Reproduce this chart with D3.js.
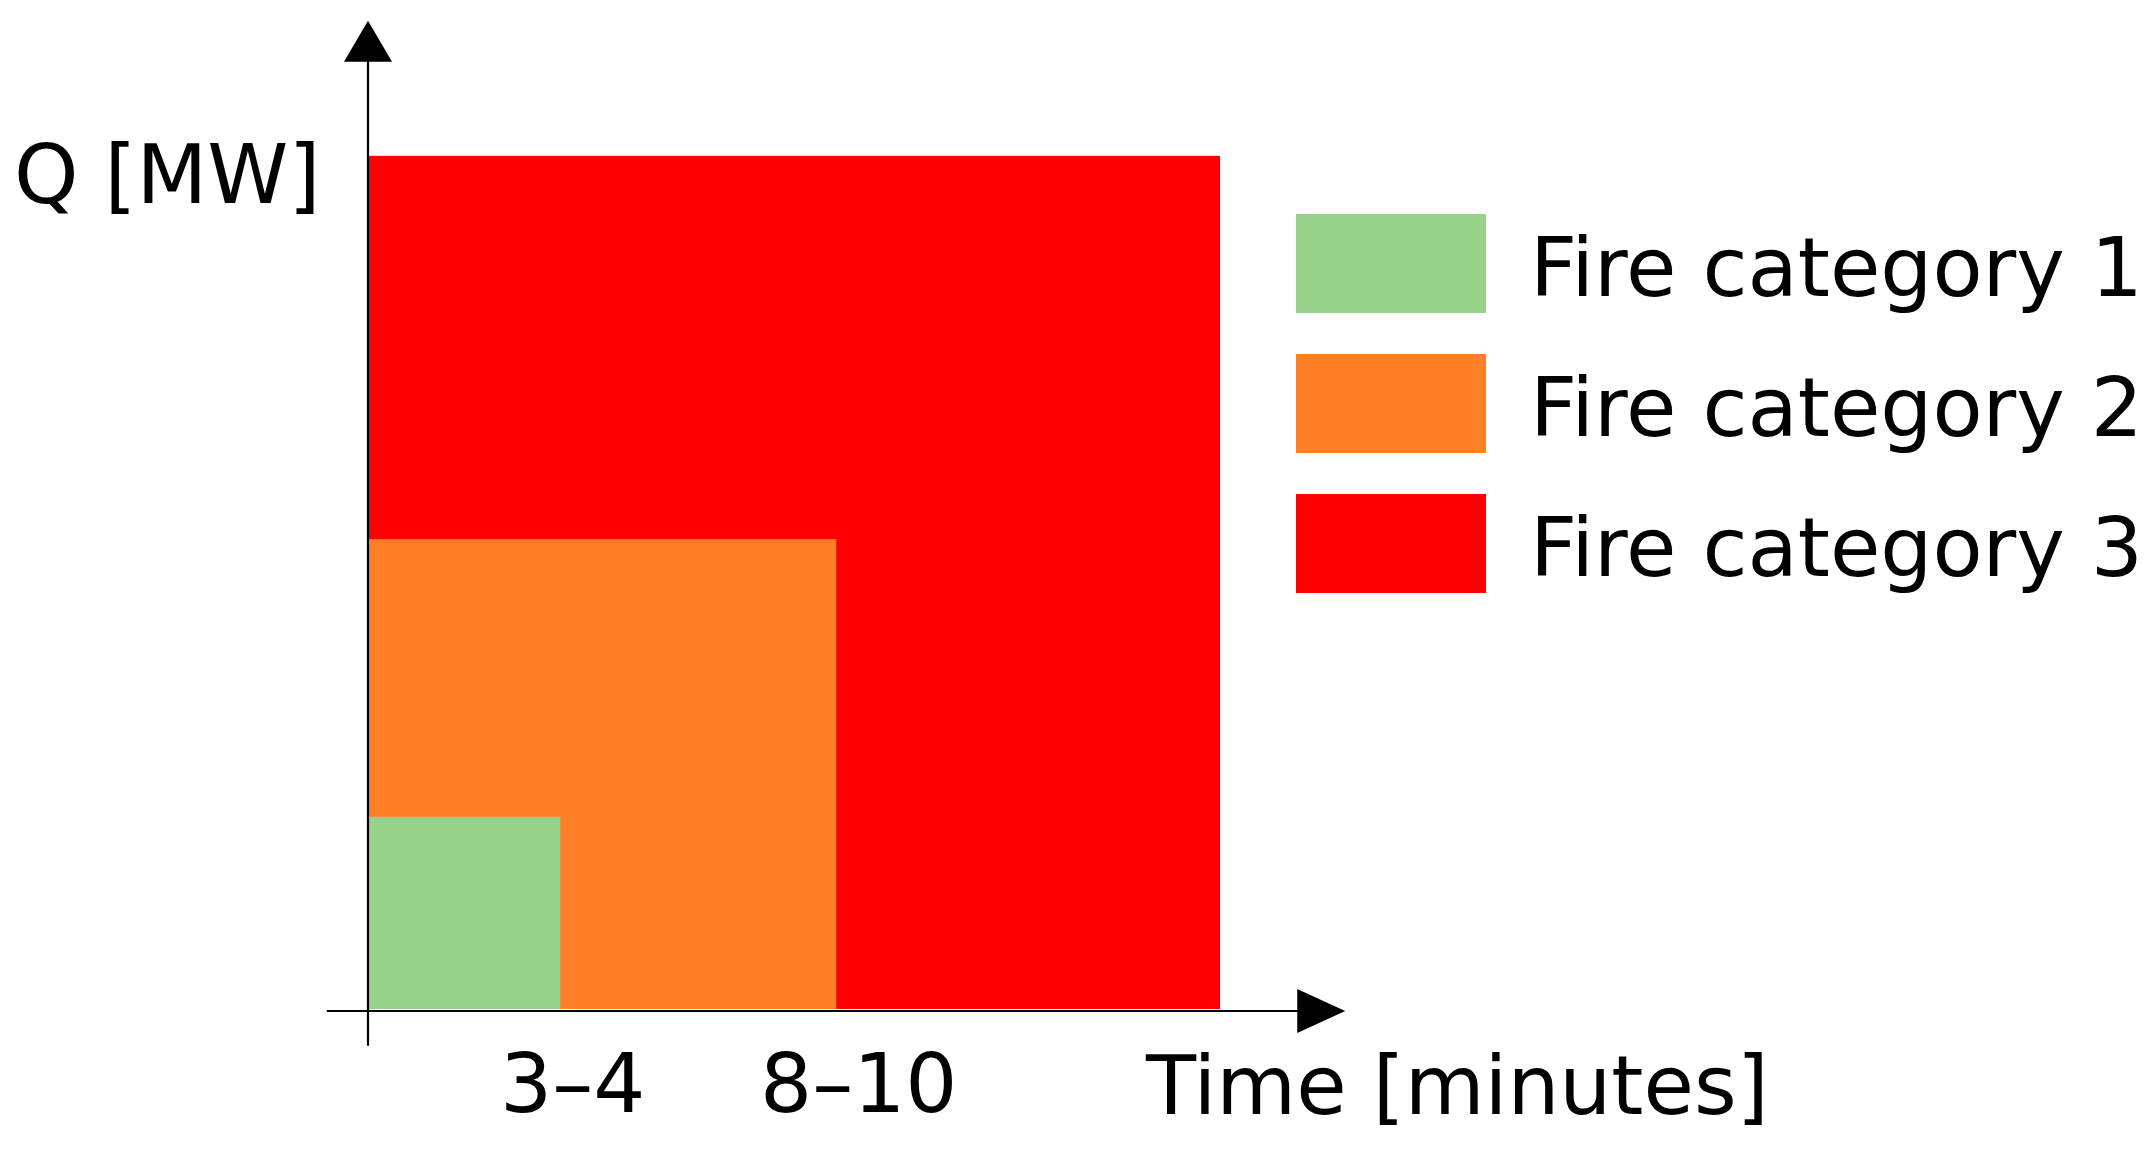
<!DOCTYPE html>
<html>
<head>
<meta charset="utf-8">
<script src="https://cdn.jsdelivr.net/npm/d3@7"></script>
<style>
  html, body { margin: 0; padding: 0; background: #fff; }
  svg text { font-family: "DejaVu Sans", Verdana, sans-serif; fill: #000; }
</style>
</head>
<body>
<div id="chart"></div>
<script>
// data
var categories = ['Fire category 1', 'Fire category 2', 'Fire category 3'],
    timeEnd = [3.5, 8.53, 15.52],    // minutes (approx. from picture)
    qValue = [3.5, 8.56, 15.54],     // Q, relative units
    colors = ['#97d28a', '#ff7f27', '#ff0000']

var tickPos = [3.72, 8.93],
    tickLabels = ['3\u20134', '8\u201310']

var w = 2152,
    h = 1158,
    ox = 368,      // origin x
    oy = 1009,     // origin y
    unit = 54.9

var svg = d3.select('#chart')
    .append('svg')
    .attr('width', w)
    .attr('height', h)

var xscale = d3.scaleLinear()
    .domain([0, 10])
    .range([ox, ox + 10 * unit])

var yscale = d3.scaleLinear()
    .domain([0, 10])
    .range([oy, oy - 10 * unit])

// rects, largest first
var rows = categories.map((c, i) => ({ name: c, t: timeEnd[i], q: qValue[i], color: colors[i] }))

svg.selectAll('rect.fire')
    .data(rows.slice().reverse())
    .enter()
    .append('rect')
    .attr('class', 'fire')
    .attr('x', xscale(0) + 1)
    .attr('y', d => yscale(d.q))
    .attr('width', d => xscale(d.t) - xscale(0) - 1)
    .attr('height', d => yscale(0) - yscale(d.q))
    .attr('fill', d => d.color)

// axes with arrows
var axisY = oy + 2
svg.append('line')
    .attr('x1', xscale(-0.75)).attr('x2', xscale(17.1))
    .attr('y1', axisY).attr('y2', axisY)
    .attr('stroke', '#000').attr('stroke-width', 2.2)

svg.append('line')
    .attr('x1', ox).attr('x2', ox)
    .attr('y1', yscale(-0.67)).attr('y2', yscale(17.3))
    .attr('stroke', '#000').attr('stroke-width', 2.2)

var xt = xscale(17.8)
svg.append('path')
    .attr('d', `M${xt},${axisY} L${xt - 48},${axisY - 22} L${xt - 48},${axisY + 22} Z`)
    .attr('fill', '#000')

var yt = yscale(18.0)
svg.append('path')
    .attr('d', `M${ox},${yt} L${ox - 24},${yt + 41} L${ox + 24},${yt + 41} Z`)
    .attr('fill', '#000')

// tick labels
var xaxis = d3.axisBottom(xscale)
    .tickValues(tickPos)
    .tickFormat((d, i) => tickLabels[i])
    .tickSize(0)

var gx = svg.append('g')
    .attr('transform', `translate(0, ${axisY})`)
    .call(xaxis)
gx.select('.domain').remove()
gx.selectAll('text')
    .attr('y', 101)
    .attr('dy', 0)
    .style('font-size', '82px')
    .style('font-family', '"DejaVu Sans", Verdana, sans-serif')

// axis titles
svg.append('text')
    .text('Q [MW]')
    .attr('x', 14)
    .attr('y', 203)
    .style('font-size', '82px')

svg.append('text')
    .text('Time [minutes]')
    .attr('x', 1146)
    .attr('y', 1114)
    .style('font-size', '82px')

// legend
var legend = svg.selectAll('g.legend')
    .data(rows)
    .enter()
    .append('g')
    .attr('class', 'legend')
    .attr('transform', (d, i) => `translate(1296, ${214 + i * 140})`)

legend.append('rect')
    .attr('width', 190)
    .attr('height', 99)
    .attr('fill', d => d.color)

legend.append('text')
    .text(d => d.name)
    .attr('x', 234)
    .attr('y', 82)
    .style('font-size', '82px')
</script>
</body>
</html>
